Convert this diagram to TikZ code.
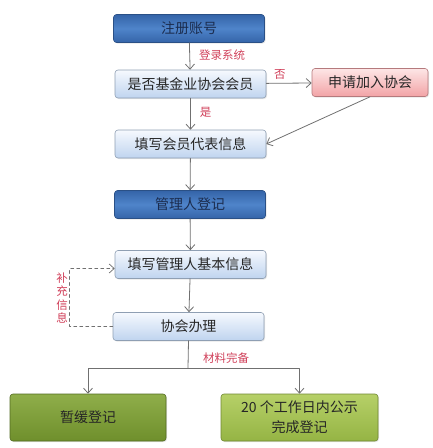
\documentclass[tikz,border=0pt]{standalone}
\usepackage{fontspec}
\setmainfont{Noto Sans CJK SC}
\usetikzlibrary{arrows.meta,shadows}
\definecolor{arrowgray}{HTML}{707070}
\definecolor{labelred}{HTML}{D0405A}
\definecolor{navytext}{HTML}{1B2C4E}
\definecolor{boxtext}{HTML}{262626}
\definecolor{darkedge}{HTML}{3464A8}
\definecolor{darkmid}{HTML}{4F84CA}
\definecolor{lighttop}{HTML}{F6F9FE}
\definecolor{lightbot}{HTML}{BFD4EF}
\definecolor{pinktop}{HTML}{FDE6E6}
\definecolor{pinkbot}{HTML}{F2A3A6}
\definecolor{olivetop}{HTML}{8FAE4A}
\definecolor{olivebot}{HTML}{6F8F2C}
\definecolor{limetop}{HTML}{B6D068}
\definecolor{limebot}{HTML}{95B444}
\begin{document}
\begin{tikzpicture}[x=1pt, y=-1pt, line join=round, line cap=round,
		box/.style={rounded corners=3pt, minimum width=151pt, minimum height=28pt, inner sep=0pt, align=center, font=\fontsize{14}{17}\selectfont, line width=0.6pt, drop shadow={shadow xshift=1pt, shadow yshift=-1pt, opacity=0.2}},
		shadedbox/.style 2 args={box, top color=#1, bottom color=#2, draw=#2!75!black, text=boxtext},
		darkbox/.style={box, top color=darkedge, bottom color=darkedge, middle color=darkmid, draw=darkedge!80!black, text=navytext},
		flow/.style={draw=arrowgray, line width=0.8pt, -{Straight Barb[length=5pt, width=9pt]}},
		note/.style={text=labelred, font=\fontsize{11.5}{13}\selectfont, inner sep=0pt}]
	\useasboundingbox (0,0) rectangle (433,448);
	\node[darkbox] (reg) at (189,28.5) {注册账号};
	\node[shadedbox={lighttop}{lightbot}] (member) at (190.5,84) {是否基金业协会会员};
	\node[shadedbox={pinktop}{pinkbot}, minimum width=116pt] (apply) at (370,82.5) {申请加入协会};
	\node[shadedbox={lighttop}{lightbot}] (rep) at (190.5,144) {填写会员代表信息};
	\node[darkbox] (mgr) at (190,204.5) {管理人登记};
	\node[shadedbox={lighttop}{lightbot}] (info) at (190.5,264.5) {填写管理人基本信息};
	\node[shadedbox={lighttop}{lightbot}] (assoc) at (188.5,326.5) {协会办理};
	\node[shadedbox={olivetop}{olivebot}, minimum width=156pt, minimum height=47pt] (defer) at (88,417.5) {暂缓登记};
	\node[shadedbox={limetop}{limebot}, minimum width=157pt, minimum height=47pt, font=\fontsize{14}{20}\selectfont] (done) at (299.5,417.5) {20 个工作日内公示\\完成登记};

	\draw[flow] (reg) -- (member) node[note, pos=0.45, right=9pt] {登录系统};
	\draw[flow] (member) -- (apply) node[note, pos=0.3, above=3pt] {否};
	\draw[flow] (member) -- (rep) node[note, pos=0.45, right=9pt] {是};
	\draw[flow] (apply.south) -- (rep.east);
	\draw[flow] (rep) -- (mgr);
	\draw[flow] (mgr) -- (info);
	\draw[flow] (info) -- (assoc);

	\draw[flow, dashed, line width=0.7pt] (assoc.west) -- ++(-43,0) |- ([yshift=-4pt]info.west);
	\node[note, align=center, font=\fontsize{11.5}{13.3}\selectfont] (more) at (62,298) {补\\充\\信\\息};

	\coordinate (split) at (188,368);
	\draw[draw=arrowgray, line width=0.8pt] (assoc.south) -- (split);
	\draw[flow] (split) -| (defer.north);
	\draw[flow] (split) -| (done.north);
	\node[note] (ready) at (226,358) {材料完备};
\end{tikzpicture}
\end{document}
